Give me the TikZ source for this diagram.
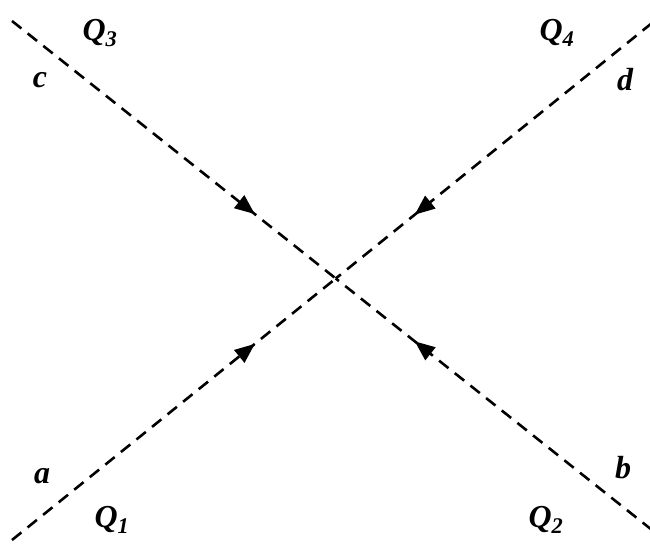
\documentclass[tikz,border=0pt]{standalone}
\usepackage{fontspec}
\setmainfont{Liberation Serif}
\usetikzlibrary{arrows.meta,decorations.markings,calc}
\begin{document}
\begin{tikzpicture}[x=1pt,y=-1pt,
  lbl/.style={font=\fontsize{32}{32}\selectfont\bfseries\itshape, inner sep=0pt},
  dline/.style={line width=2.6pt, dash pattern=on 12pt off 8pt,
    postaction={decorate},
    decoration={markings, mark=at position 0.75 with {\arrow{Triangle[length=20pt,width=16pt]}}}}]
\useasboundingbox (0,0) rectangle (650,545);
\coordinate (c) at (12,21);
\coordinate (b) at (652,530);
\coordinate (a) at (12,540);
\coordinate (d) at (652,23);
\coordinate (o) at (intersection of c--b and a--d);
\draw[dline] (c) -- (o);
\draw[dline] (b) -- (o);
\draw[dline] (a) -- (o);
\draw[dline] (d) -- (o);
\node[lbl] (q3) at (100,33) {Q\textsubscript{3}};
\node[lbl] (lc) at (40,80) {c};
\node[lbl] (q4) at (557,33) {Q\textsubscript{4}};
\node[lbl] (ld) at (625,80) {d};
\node[lbl] (la) at (42,476) {a};
\node[lbl] (q1) at (112,520) {Q\textsubscript{1}};
\node[lbl] (lb) at (623,468) {b};
\node[lbl] (q2) at (546,520) {Q\textsubscript{2}};
\end{tikzpicture}
\end{document}
